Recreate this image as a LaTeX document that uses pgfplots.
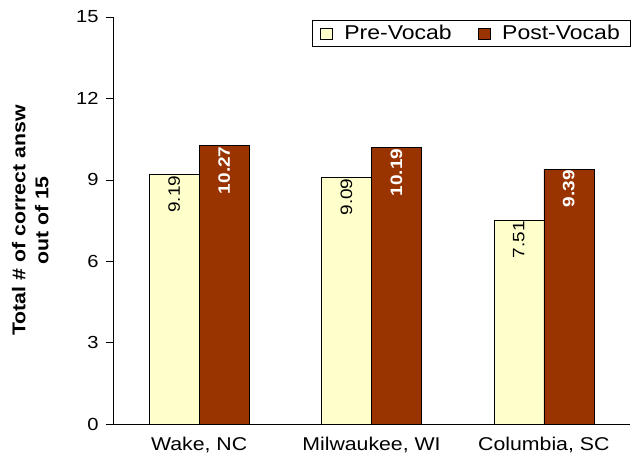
\documentclass[border=0pt]{standalone}
\usepackage{pgfplots}
\pgfplotsset{compat=1.18}
\usepackage{fontspec}
\setmainfont{Liberation Sans}[FakeStretch=1.15]
\definecolor{prefill}{HTML}{FFFFCC}
\definecolor{postfill}{HTML}{993300}
\begin{document}
\begin{tikzpicture}
\begin{axis}[
    scale only axis,
    width=517pt, height=407pt,
    xmin=0, xmax=3, ymin=0, ymax=15,
    axis x line*=bottom, axis y line*=left,
    axis line style={-, black},
    every outer x axis line/.append style={-},
    every outer y axis line/.append style={-},
    xtick={0.5,1.5,2.5},
    xticklabels={{Wake, NC},{Milwaukee, WI},{Columbia, SC}},
    x tick style={draw=none},
    x tick label style={font=\fontsize{18.5}{22}\selectfont, yshift=-2.5pt},
    extra x ticks={0,1,2,3},
    extra x tick labels={},
    extra x tick style={tick style={draw=black}, major tick length=5pt},
    ytick={0,3,...,15},
    tick align=outside,
    major tick length=7pt,
    y tick style={black},
    y tick label style={font=\fontsize{17.5}{21}\selectfont, xshift=-4pt},
    /pgf/number format/assume math mode=true,
    ylabel={Total \# of correct answ\\out of 15},
    ylabel style={font=\fontsize{18.5}{23}\selectfont\bfseries, align=center,
        at={(axis description cs:-0.16,0.5)}, anchor=center},
    ybar, bar width=0.29,
    nodes near coords,
    nodes near coords style={rotate=90, anchor=east, inner sep=1pt,
        /pgf/number format/fixed, /pgf/number format/precision=2,
        /pgf/number format/fixed zerofill},
    legend columns=-1,
    legend style={at={(1,1)}, anchor=north east, yshift=-3pt, draw=black,
        font=\fontsize{20}{22}\selectfont, inner xsep=8pt, inner ysep=3pt,
        /tikz/every odd column/.append style={column sep=10pt},
        /tikz/every even column/.append style={column sep=24pt}},
    legend image code/.code={\draw[#1, draw=black] (0pt,-6pt) rectangle (12pt,5pt);},
    clip=false,
]
\addplot[fill=prefill, draw=black, bar shift=-0.145,
    nodes near coords style={font=\fontsize{16.5}{19}\selectfont, text=black}]
    coordinates {(0.5,9.19) (1.5,9.09) (2.5,7.51)};
\addplot[fill=postfill, draw=black, bar shift=0.145,
    nodes near coords style={font=\fontsize{16.5}{19}\selectfont\bfseries, text=white}]
    coordinates {(0.5,10.27) (1.5,10.19) (2.5,9.39)};
\legend{Pre-Vocab, Post-Vocab}
\end{axis}
\pgfresetboundingbox
\path (current axis.south west) ++(-113pt,-30pt) rectangle ++(631pt,454pt);
\end{tikzpicture}
\end{document}
